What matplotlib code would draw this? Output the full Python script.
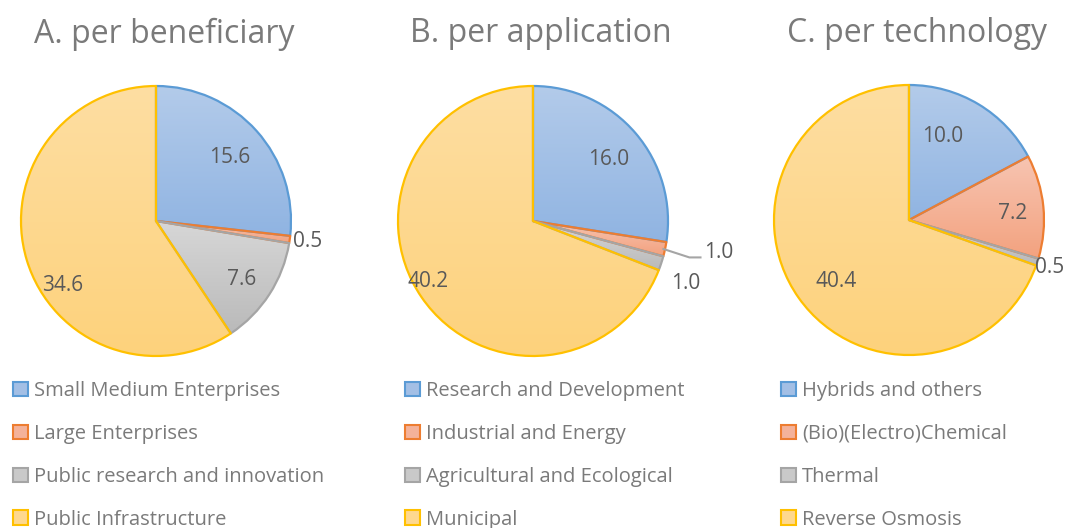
import numpy as np
import matplotlib
matplotlib.use("Agg")
import matplotlib.pyplot as plt
from matplotlib.patches import Patch
from matplotlib.colors import to_rgb

plt.rcParams['font.family'] = ['Open Sans', 'DejaVu Sans']

titles = ["A. per beneficiary", "B. per application", "C. per technology"]
labels_a = ["Small Medium Enterprises", "Large Enterprises", "Public research and innovation", "Public Infrastructure"]
labels_b = ["Research and Development", "Industrial and Energy", "Agricultural and Ecological", "Municipal"]
labels_c = ["Hybrids and others", "(Bio)(Electro)Chemical", "Thermal", "Reverse Osmosis"]
values_a = [15.6, 0.5, 7.6, 34.6]
values_b = [16.0, 1.0, 1.0, 40.2]
values_c = [10.0, 7.2, 0.5, 40.4]

faces = ["#a3bfe5", "#f4b29a", "#c9c9c9", "#fed88f"]
tops = ["#b3cbea", "#f7c4b1", "#d7d7d7", "#fedea2"]
bottoms = ["#90b4e2", "#f3a27f", "#bababa", "#fdd27c"]
edges = ["#5b9bd5", "#ed7d31", "#a5a5a5", "#ffc000"]
txt = "#595959"
txt_light = "#7a7a7a"

# label placement style: (radius factor, angle offset deg) per slice
lab_style = [
    [(0.72, -0.8), (1.13, 0.3), (0.77, -1.6), (0.84, 17.7)],
    [(0.72, -1.5), (1.35, 0), (1.22, -4.2), (0.90, -4.3)],
    [(0.67, 9), (0.77, -2), (1.10, -0.5), (0.71, 4.9)],
]
leader = [False, True, False, False]

W, H = 1069, 528
fig = plt.figure(figsize=(W/100, H/100), dpi=100)
centers = [(156, 221), (533, 221), (909, 220)]
R = 135
E = 1.4
data = [(values_a, labels_a), (values_b, labels_b), (values_c, labels_c)]
legend_x = [13, 405, 781]
title_dx = 8

for k, ((vals, labs), (cx, cy)) in enumerate(zip(data, centers)):
    side = 2 * E * R
    ax = fig.add_axes([(cx - E*R)/W, 1 - (cy + E*R)/H, side/W, side/H])
    ax.axis('off')
    wedges, _ = ax.pie(vals, startangle=90, counterclock=False, radius=1,
                       colors=faces,
                       wedgeprops=dict(linewidth=1.6, joinstyle='round'))
    for i, w in enumerate(wedges):
        w.set_edgecolor(edges[i])
        w.set_facecolor('none')
        w.set_zorder(3)
        verts = w.get_path().vertices
        x0, x1 = verts[:, 0].min(), verts[:, 0].max()
        y0, y1 = verts[:, 1].min(), verts[:, 1].max()
        t = np.linspace(0, 1, 64)[:, None]
        c0, c1 = np.array(to_rgb(bottoms[i])), np.array(to_rgb(tops[i]))
        grad = (c0[None, :] * (1 - t) + c1[None, :] * t)[:, None, :]
        im = ax.imshow(grad, extent=[x0, x1, y0, y1], origin='lower',
                       aspect='auto', interpolation='bilinear', zorder=2)
        im.set_clip_path(w)
    ax.set_aspect('equal')
    ax.set_xlim(-E, E); ax.set_ylim(-E, E)
    for i, (w, v) in enumerate(zip(wedges, vals)):
        mid = (w.theta1 + w.theta2) / 2
        rf, da = lab_style[k][i]
        a = np.deg2rad(mid + da)
        x, y = rf*np.cos(a), rf*np.sin(a)
        if k == 1 and leader[i]:
            am = np.deg2rad(mid)
            x0, y0 = 0.98*np.cos(am), 0.98*np.sin(am)
            ax.plot([x0, x0 + 0.2, x0 + 0.29], [y0, y0 - 0.065, y0 - 0.065],
                    color="#a5a5a5", lw=1.5, solid_capstyle='butt', zorder=4)
            ax.text(x0 + 0.31, y0 - 0.03, f"{v:.1f}", ha='left', va='center',
                    fontsize=15, color=txt, zorder=5)
        else:
            ax.text(x, y, f"{v:.1f}", ha='center', va='center', fontsize=15,
                    color=txt, zorder=5)
    fig.text((cx + title_dx)/W, 1 - 34/H, titles[k], ha='center', va='center',
             fontsize=23, color=txt_light)
    handles = [Patch(facecolor=f, edgecolor=e, linewidth=1.5) for f, e in zip(faces, edges)]
    fig.legend(handles, labs, loc='upper left',
               bbox_to_anchor=(legend_x[k]/W, 1 - 381/H), frameon=False,
               fontsize=14.5, labelcolor=txt_light, handlelength=0.75, handleheight=0.75,
               handletextpad=0.3, labelspacing=1.14, borderpad=0, borderaxespad=0)

fig.savefig("out.png", dpi=100)
